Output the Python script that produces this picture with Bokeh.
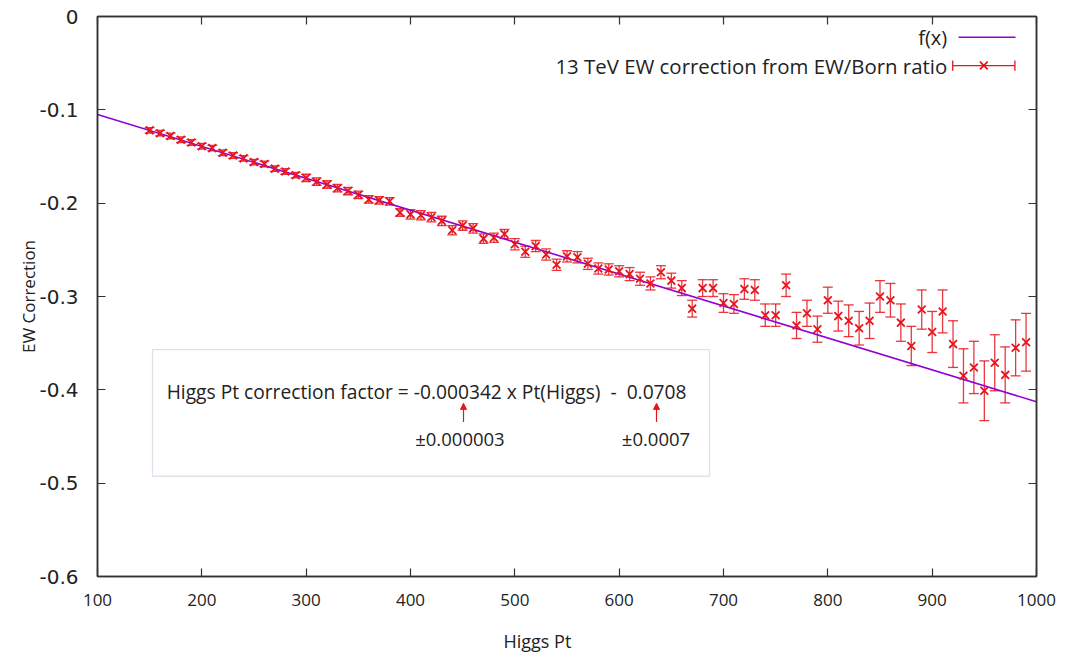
from bokeh.plotting import figure
from bokeh.models import (Range1d, LinearAxis, FixedTicker, Whisker, TeeHead, Title,
                          ColumnDataSource, Label, BoxAnnotation, Arrow, NormalHead)
from bokeh.embed import file_html
from bokeh.resources import INLINE

# ---------------- data ----------------
pt_x = [150, 160, 170, 180, 190, 200, 210, 220, 230, 240, 250, 260, 270, 280, 290,
        300, 310, 320, 330, 340, 350, 360, 370, 380, 390,
        400, 410, 420, 430, 440, 450, 460, 470, 480, 490,
        500, 510, 520, 530, 540, 550, 560, 570, 580, 590,
        600, 610, 620, 630, 640, 650, 660, 670, 680, 690,
        700, 710, 720, 730, 740, 750, 760, 770, 780, 790,
        800, 810, 820, 830, 840, 850, 860, 870, 880, 890,
        900, 910, 920, 930, 940, 950, 960, 970, 980, 990]
ew_corr = [-0.122, -0.125, -0.128, -0.132, -0.135, -0.139, -0.141, -0.146, -0.149, -0.152,
           -0.156, -0.158, -0.163, -0.166, -0.170,
           -0.173, -0.177, -0.180, -0.184, -0.187, -0.191, -0.196, -0.197, -0.198, -0.210,
           -0.212, -0.213, -0.215, -0.219, -0.229, -0.224, -0.227, -0.238, -0.237, -0.233,
           -0.244, -0.252, -0.246, -0.255, -0.266, -0.257, -0.258, -0.265, -0.270, -0.271,
           -0.273, -0.276, -0.281, -0.286, -0.274, -0.283, -0.291, -0.313, -0.291, -0.291,
           -0.307, -0.308, -0.292, -0.293, -0.320, -0.320, -0.288, -0.331, -0.318, -0.335,
           -0.304, -0.321, -0.326, -0.334, -0.326, -0.300, -0.304, -0.328, -0.353, -0.314,
           -0.338, -0.316, -0.351, -0.385, -0.376, -0.401, -0.371, -0.384, -0.355, -0.349]
ew_err = [0.003, 0.003, 0.003, 0.003, 0.003, 0.003, 0.003, 0.003, 0.003, 0.003,
          0.003, 0.003, 0.003, 0.003, 0.003,
          0.004, 0.004, 0.004, 0.004, 0.004, 0.004, 0.004, 0.004, 0.004, 0.004,
          0.005, 0.005, 0.005, 0.005, 0.005, 0.005, 0.005, 0.005, 0.005, 0.005,
          0.006, 0.006, 0.006, 0.006, 0.006, 0.006, 0.006, 0.006, 0.006, 0.006,
          0.006, 0.007, 0.007, 0.007, 0.007, 0.008, 0.008, 0.009, 0.009, 0.009,
          0.010, 0.010, 0.011, 0.011, 0.012, 0.012, 0.012, 0.014, 0.014, 0.014,
          0.014, 0.016, 0.017, 0.018, 0.019, 0.017, 0.018, 0.020, 0.021, 0.021,
          0.022, 0.023, 0.025, 0.029, 0.028, 0.032, 0.030, 0.030, 0.030, 0.031]

fit_slope = -0.000342
fit_intercept = -0.0708
fit_x = [100, 1000]

x_ticks = [100, 200, 300, 400, 500, 600, 700, 800, 900, 1000]
y_ticks = [0, -0.1, -0.2, -0.3, -0.4, -0.5, -0.6]
y_tick_labels = {0: "0", -0.1: "-0.1", -0.2: "-0.2", -0.3: "-0.3", -0.4: "-0.4", -0.5: "-0.5", -0.6: "-0.6"}

RED = "#e8141c"
PURPLE = "#9400d3"
AXIS = "#333333"
TXT = "#222222"
NB = "\u00a0"

# ---------------- figure ----------------
p = figure(width=1071, height=671, x_range=Range1d(100, 1000), y_range=Range1d(-0.6, 0),
           output_backend="svg", toolbar_location=None,
           min_border_left=97, min_border_right=35, min_border_top=16, min_border_bottom=95)
p.xgrid.visible = False
p.ygrid.visible = False
p.outline_line_color = AXIS
p.outline_line_width = 1.5
p.background_fill_color = "white"
p.border_fill_color = "white"

def style_axis(ax, show_labels):
    ax.major_tick_in = 8
    ax.major_tick_out = 0
    ax.minor_tick_line_color = None
    ax.axis_line_color = AXIS
    ax.axis_line_width = 1.5
    ax.major_tick_line_color = AXIS
    ax.major_tick_line_width = 1.2
    if not show_labels:
        ax.major_label_text_font_size = "0px"
        ax.major_label_text_color = None

xa = p.xaxis[0]
ya = p.yaxis[0]
xa.ticker = FixedTicker(ticks=x_ticks)
ya.ticker = FixedTicker(ticks=y_ticks)
ya.major_label_overrides = y_tick_labels
style_axis(xa, True)
style_axis(ya, True)
xa.major_label_text_font = "Open Sans"
xa.major_label_text_font_size = "17px"
xa.major_label_text_color = TXT
xa.major_label_standoff = 17
ya.major_label_text_font = "DejaVu Sans"
ya.major_label_text_font_size = "20px"
ya.major_label_text_color = TXT
ya.major_label_standoff = 19
ya.axis_label = "EW Correction"
ya.axis_label_text_font = "Open Sans"
ya.axis_label_text_font_size = "17px"
ya.axis_label_text_font_style = "normal"
ya.axis_label_text_color = TXT
ya.axis_label_standoff = -4

top = LinearAxis(ticker=FixedTicker(ticks=x_ticks))
right = LinearAxis(ticker=FixedTicker(ticks=y_ticks))
style_axis(top, False)
style_axis(right, False)
p.add_layout(top, "above")
p.add_layout(right, "right")

# x-axis title (slightly left of centre as in the original)
xt = Title(text="Higgs Pt", align="left", offset=406, standoff=37,
           text_font="Open Sans", text_font_size="18px", text_font_style="normal",
           text_color=TXT)
p.add_layout(xt, "below")

# ---------------- fit line ----------------
fit_y = [fit_slope * v + fit_intercept for v in fit_x]
p.line(fit_x, fit_y, line_color=PURPLE, line_width=1.6)

# ---------------- data with error bars ----------------
src = ColumnDataSource(dict(
    x=pt_x, y=ew_corr,
    lo=[c - e for c, e in zip(ew_corr, ew_err)],
    hi=[c + e for c, e in zip(ew_corr, ew_err)],
))
wh = Whisker(source=src, base="x", lower="lo", upper="hi",
             line_color=RED, line_width=1.3, line_alpha=0.85,
             lower_head=TeeHead(size=10, line_color=RED, line_width=1.3, line_alpha=0.85),
             upper_head=TeeHead(size=10, line_color=RED, line_width=1.3, line_alpha=0.85))
p.add_layout(wh)
p.scatter("x", "y", source=src, marker="x", size=11, line_color=RED, line_width=1.8)

# ---------------- legend (gnuplot style: text right, sample on the right) ----------------
p.add_layout(Label(x=914.4, y=-0.0222, text="f(x)", text_align="right", text_baseline="middle",
                   text_font="Open Sans", text_font_size="20px", text_color=TXT))
p.add_layout(Label(x=914.4, y=-0.0526, text="13 TeV EW correction from EW/Born ratio",
                   text_align="right", text_baseline="middle",
                   text_font="Open Sans", text_font_size="20.4px", text_color=TXT))
p.line([925.3, 979.9], [-0.0222, -0.0222], line_color=PURPLE, line_width=1.6)
p.segment([919.7], [-0.0526], [979.3], [-0.0526], line_color=RED, line_width=1.3)
p.segment([919.7, 979.3], [-0.0580, -0.0580], [919.7, 979.3], [-0.0472, -0.0472],
          line_color=RED, line_width=1.3)
p.scatter([949.5], [-0.0526], marker="x", size=11, line_color=RED, line_width=1.8)

# ---------------- annotation box ----------------
p.add_layout(BoxAnnotation(left=152.7, right=686.6, top=-0.357, bottom=-0.4926,
                           fill_color=None, line_color="#8ba3bd", line_width=1.3))
p.add_layout(Label(x=166.3, y=-0.4015,
                   text="Higgs Pt correction factor = -0.000342 x Pt(Higgs)" + NB * 2 + "-" + NB * 2 + "0.0708",
                   text_baseline="middle", text_font="Open Sans", text_font_size="19.2px",
                   text_color=TXT))
p.add_layout(Label(x=447.4, y=-0.4525, text="\u00b10.000003", text_align="center",
                   text_baseline="middle", text_font="Open Sans", text_font_size="18.5px",
                   text_color=TXT))
p.add_layout(Label(x=635.3, y=-0.4525, text="\u00b10.0007", text_align="center",
                   text_baseline="middle", text_font="Open Sans", text_font_size="18.5px",
                   text_color=TXT))
for ax_x in (450.8, 635.8):
    p.add_layout(Arrow(x_start=ax_x, y_start=-0.4345, x_end=ax_x, y_end=-0.4145,
                       line_color=RED, line_width=1.2,
                       end=NormalHead(size=6, fill_color=RED, line_color=RED)))

open("out.html", "w").write(file_html(p, INLINE))
